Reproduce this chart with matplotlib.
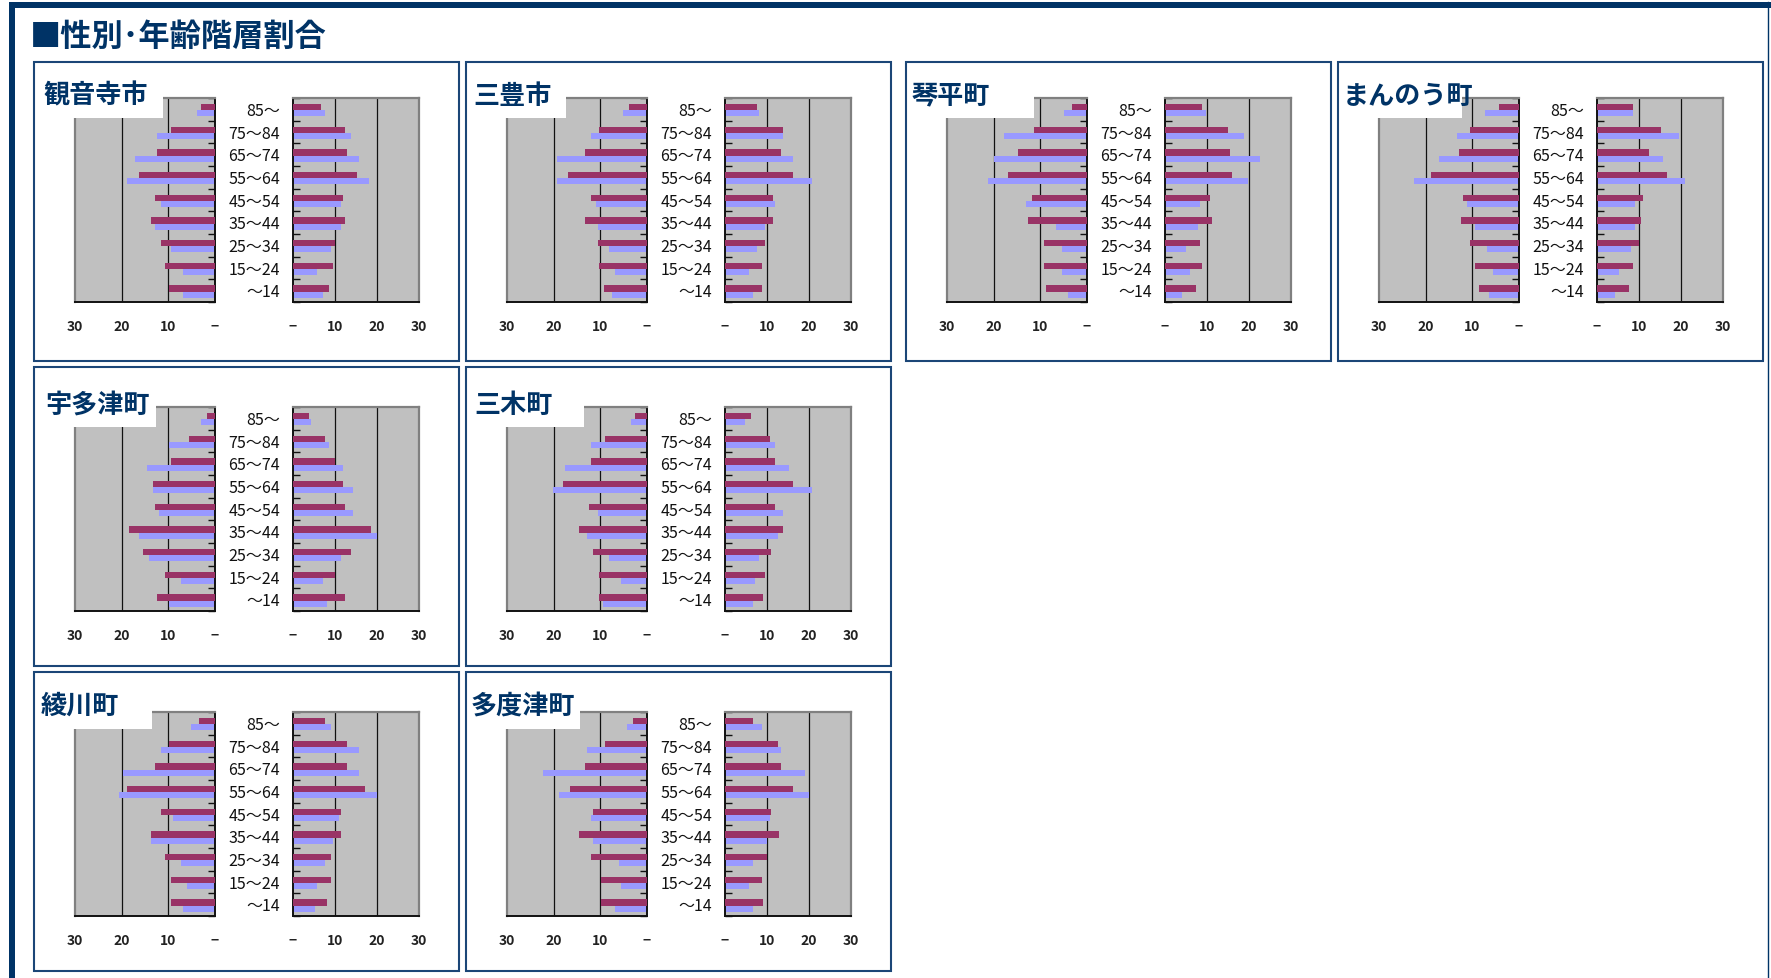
import numpy as np
import matplotlib
matplotlib.use("Agg")
import matplotlib.pyplot as plt
from matplotlib.patches import Rectangle
from matplotlib.lines import Line2D
from matplotlib.transforms import blended_transform_factory

plt.rcParams["font.family"] = ["Noto Sans CJK JP", "DejaVu Sans"]

# ---------------------------------------------------------------- data
TOWNS = ["観音寺市", "三豊市", "琴平町", "まんのう町",
         "宇多津町", "三木町", "綾川町", "多度津町"]

AGE_GROUPS = ["85〜", "75〜84", "65〜74", "55〜64", "45〜54",
              "35〜44", "25〜34", "15〜24", "〜14"]

# share of each age group (%), male side, first series (one row per town)
MALE_S1 = [
    [3.0, 9.4, 12.4, 16.3, 12.9, 13.7, 11.6, 10.7, 9.9],
    [3.8, 10.2, 13.2, 17.0, 11.9, 13.2, 10.6, 10.2, 9.3],
    [3.3, 11.4, 14.8, 17.0, 11.8, 12.7, 9.3, 9.3, 8.8],
    [4.2, 10.6, 12.8, 18.8, 11.9, 12.4, 10.6, 9.4, 8.5],
    [1.7, 5.6, 9.4, 13.3, 12.9, 18.4, 15.4, 10.7, 12.4],
    [2.5, 8.9, 11.9, 17.9, 12.4, 14.5, 11.5, 10.2, 10.2],
    [3.4, 9.9, 12.9, 18.9, 11.6, 13.7, 10.7, 9.4, 9.4],
    [2.9, 8.9, 13.2, 16.6, 11.5, 14.5, 11.9, 9.8, 9.8],
]

# male side, second series
MALE_S2 = [
    [3.9, 12.4, 17.1, 18.9, 11.6, 12.9, 9.4, 6.9, 6.9],
    [5.1, 11.9, 19.2, 19.2, 11.0, 10.6, 8.1, 6.8, 7.6],
    [5.0, 17.8, 20.0, 21.2, 13.1, 6.7, 5.4, 5.4, 4.1],
    [7.2, 13.2, 17.1, 22.6, 11.1, 9.4, 6.8, 5.5, 6.4],
    [3.0, 9.9, 14.6, 13.3, 12.0, 16.3, 14.1, 7.3, 9.9],
    [3.4, 11.9, 17.5, 20.1, 10.6, 12.8, 8.1, 5.5, 9.4],
    [5.1, 11.6, 19.7, 20.6, 9.0, 13.7, 7.3, 6.0, 6.9],
    [4.2, 12.8, 22.2, 18.8, 11.9, 11.5, 5.9, 5.5, 6.8],
]

# female side, first series
FEMALE_S1 = [
    [6.6, 12.4, 12.8, 15.2, 11.9, 12.4, 10.0, 9.5, 8.5],
    [7.7, 13.9, 13.4, 16.3, 11.5, 11.5, 9.6, 8.7, 8.7],
    [8.7, 14.9, 15.4, 15.9, 10.6, 11.1, 8.3, 8.7, 7.3],
    [8.6, 15.3, 12.4, 16.7, 11.0, 10.5, 10.0, 8.6, 7.6],
    [3.8, 7.6, 10.0, 11.9, 12.4, 18.6, 13.8, 10.0, 12.4],
    [6.3, 10.6, 12.0, 16.3, 12.0, 13.9, 11.0, 9.6, 9.1],
    [7.6, 12.8, 12.8, 17.2, 11.4, 11.4, 9.0, 9.0, 8.1],
    [6.7, 12.5, 13.4, 16.3, 11.0, 12.9, 10.1, 8.7, 9.1],
]

# female side, second series
FEMALE_S2 = [
    [7.6, 13.8, 15.7, 18.1, 11.4, 11.4, 9.0, 5.7, 7.1],
    [8.2, 13.9, 16.3, 20.6, 12.0, 9.6, 7.7, 5.8, 6.7],
    [9.7, 18.7, 22.5, 19.7, 8.3, 7.8, 4.9, 5.9, 4.0],
    [8.6, 19.6, 15.8, 21.0, 9.1, 9.1, 8.1, 5.3, 4.3],
    [4.2, 8.5, 11.9, 14.3, 14.3, 20.0, 11.4, 7.1, 8.1],
    [4.8, 12.0, 15.3, 20.6, 13.9, 12.5, 8.2, 7.2, 6.7],
    [9.0, 15.7, 15.7, 20.0, 10.9, 9.5, 7.6, 5.7, 5.2],
    [8.7, 13.4, 19.1, 20.1, 10.6, 10.1, 6.7, 5.8, 6.7],
]

X_TICKS = [0, 10, 20, 30]
X_TICK_LABELS = ["−", "10", "20", "30"]

# ---------------------------------------------------------------- styling
W, H = 1771, 979
NAVY = "#003366"
PANEL_EDGE = "#1B4677"
C_S1 = "#993366"
C_S2 = "#9999FF"
PLOT_BG = "#C0C0C0"
FRAME_GRAY = "#808080"

PANEL_X = [34, 466, 906, 1338]
PANEL_Y = [63, 368, 673]
PANEL_W, PANEL_H = 425, 299
PANEL_SLOTS = [(0, 0), (0, 1), (0, 2), (0, 3), (1, 0), (1, 1), (2, 0), (2, 1)]
CHART_TOP = [36, 40, 40]          # per row, relative to panel top
CHART_H = 204
TITLE_CY = [33, 37, 33]
TITLE_BOX_BOTTOM = [56, 60, 57]
TITLE_BOX_RIGHT = [129, 100, 128, 124, 122, 118, 118, 114]
TITLE_X = [9, 7, 6, 5, 11, 8, 7, 5]


def fig_rect(x, y, w, h):
    """pixel box (top-left origin) -> figure fraction [l, b, w, h]"""
    return [x / W, 1 - (y + h) / H, w / W, h / H]


fig = plt.figure(figsize=(W / 100, H / 100), dpi=100, facecolor="white")

# outer frame: heavy top and left rules, thin right rule
fig.patches.append(Rectangle((9 / W, 1 - 9 / H), 1762 / W, 6 / H,
                             transform=fig.transFigure, facecolor=NAVY,
                             edgecolor="none", zorder=5))
fig.patches.append(Rectangle((9 / W, 0), 6 / W, 1 - 3 / H,
                             transform=fig.transFigure, facecolor=NAVY,
                             edgecolor="none", zorder=5))
fig.lines.append(Line2D([1768 / W, 1768 / W], [0, 1 - 3 / H],
                        transform=fig.transFigure, color=NAVY, lw=1.0))

fig.text(30 / W, 1 - 37 / H, "■性別･年齢階層割合", fontsize=22.5,
         fontweight="bold", color=NAVY, ha="left", va="center")

y_pos = np.arange(len(AGE_GROUPS))[::-1]          # 85〜 at the top
H_S1, OFF_S1 = 0.28, 0.10
H_S2, OFF_S2 = 0.27, -0.175


def style_axes(ax, zero_side):
    ax.set_facecolor(PLOT_BG)
    ax.set_ylim(-0.5, len(AGE_GROUPS) - 0.5)
    for g in (10, 20):
        ax.axvline(g, color="#111111", lw=0.9, zorder=1)
    for side in ("top", "left", "right", "bottom"):
        ax.spines[side].set_color(FRAME_GRAY)
        ax.spines[side].set_linewidth(1.6)
    ax.spines["bottom"].set_color("#111111")
    ax.spines["bottom"].set_linewidth(1.4)
    ax.spines[zero_side].set_color("#111111")
    ax.spines[zero_side].set_linewidth(1.4)
    ax.set_yticks(np.arange(-0.5, len(AGE_GROUPS), 1.0))
    ax.set_yticklabels([])
    ax.yaxis.set_ticks_position(zero_side)
    ax.tick_params(axis="y", direction="in", length=5, width=1.0,
                   color="#111111")
    ax.set_xticks(X_TICKS)
    ax.set_xticklabels(X_TICK_LABELS, fontweight="bold")
    ax.tick_params(axis="x", length=0, pad=12, labelsize=10,
                   labelcolor="#222222")


for i, town in enumerate(TOWNS):
    row, col = PANEL_SLOTS[i]
    px, py = PANEL_X[col], PANEL_Y[row]

    fig.patches.append(Rectangle((px / W, 1 - (py + PANEL_H) / H),
                                 PANEL_W / W, PANEL_H / H,
                                 transform=fig.transFigure, fill=False,
                                 edgecolor=PANEL_EDGE, lw=1.5, zorder=4))

    top = py + CHART_TOP[row]
    ax_m = fig.add_axes(fig_rect(px + 41, top, 140, CHART_H))
    ax_f = fig.add_axes(fig_rect(px + 259, top, 126, CHART_H))

    ax_m.barh(y_pos + OFF_S2, MALE_S2[i], height=H_S2, color=C_S2, zorder=2)
    ax_m.barh(y_pos + OFF_S1, MALE_S1[i], height=H_S1, color=C_S1, zorder=3)
    ax_m.set_xlim(30, 0)
    style_axes(ax_m, "right")

    ax_f.barh(y_pos + OFF_S2, FEMALE_S2[i], height=H_S2, color=C_S2, zorder=2)
    ax_f.barh(y_pos + OFF_S1, FEMALE_S1[i], height=H_S1, color=C_S1, zorder=3)
    ax_f.set_xlim(0, 30)
    style_axes(ax_f, "left")

    # age group labels between the two halves
    tr = blended_transform_factory(fig.transFigure, ax_m.transData)
    for yy, lab in zip(y_pos, AGE_GROUPS):
        fig.text((px + 246) / W, yy - 0.05, lab, transform=tr, ha="right",
                 va="center", fontsize=11.5, color="#111111", zorder=6)

    # town name on a white label box
    bx0, bx1 = px + 2, px + TITLE_BOX_RIGHT[i]
    by0, by1 = py + 3, py + TITLE_BOX_BOTTOM[row]
    fig.patches.append(Rectangle((bx0 / W, 1 - by1 / H), (bx1 - bx0) / W,
                                 (by1 - by0) / H, transform=fig.transFigure,
                                 facecolor="white", edgecolor="none",
                                 zorder=3))
    fig.text((px + TITLE_X[i]) / W, 1 - (py + TITLE_CY[row]) / H, town,
             fontsize=18.8, fontweight="bold", color=NAVY, ha="left",
             va="center", zorder=6)

fig.savefig("out.png", dpi=100, facecolor="white")
